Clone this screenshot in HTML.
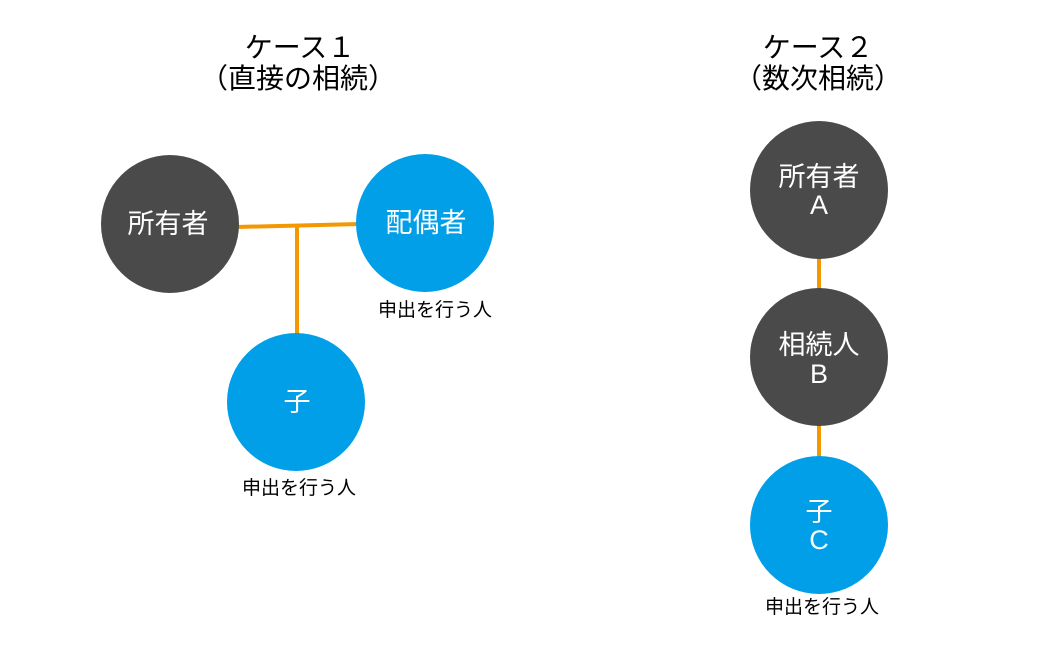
<!DOCTYPE html>
<html><head><meta charset="utf-8"><style>
html,body{margin:0;padding:0;background:#fff;}
svg{display:block;font-family:"Liberation Sans","Noto Sans CJK JP",sans-serif;}
</style></head><body>
<svg width="1061" height="660" viewBox="0 0 1061 660">
<g fill="#000" font-size="28" text-anchor="middle">
<text x="300" y="57">ケース１</text>
<text x="298" y="88">（直接の相続）</text>
<text x="818" y="57">ケース２</text>
<text x="818" y="88">（数次相続）</text>
</g>
<g stroke="#F39800" stroke-width="4" fill="none">
<line x1="236" y1="227" x2="360" y2="224"/>
<line x1="297" y1="226" x2="297" y2="336"/>
<line x1="819" y1="256" x2="819" y2="291"/>
<line x1="819" y1="424" x2="819" y2="459"/>
</g>
<circle cx="170" cy="224" r="69" fill="#4A4A4A"/>
<circle cx="425" cy="223" r="69" fill="#009FE8"/>
<circle cx="296" cy="402" r="69" fill="#009FE8"/>
<circle cx="819" cy="190" r="69" fill="#4A4A4A"/>
<circle cx="819" cy="357" r="69" fill="#4A4A4A"/>
<circle cx="819" cy="525" r="69" fill="#009FE8"/>
<g fill="#fff" font-size="27" text-anchor="middle">
<text x="168" y="233">所有者</text>
<text x="426" y="232">配偶者</text>
<text x="297" y="411">子</text>
<text x="819" y="186">所有者</text>
<text x="819" y="214">A</text>
<text x="819" y="354">相続人</text>
<text x="819" y="383">B</text>
<text x="819" y="521">子</text>
<text x="819" y="549">C</text>
</g>
<g fill="#000" font-size="19" text-anchor="middle">
<text x="435" y="316">申出を行う人</text>
<text x="299" y="494">申出を行う人</text>
<text x="822" y="613">申出を行う人</text>
</g>
</svg>
</body></html>
